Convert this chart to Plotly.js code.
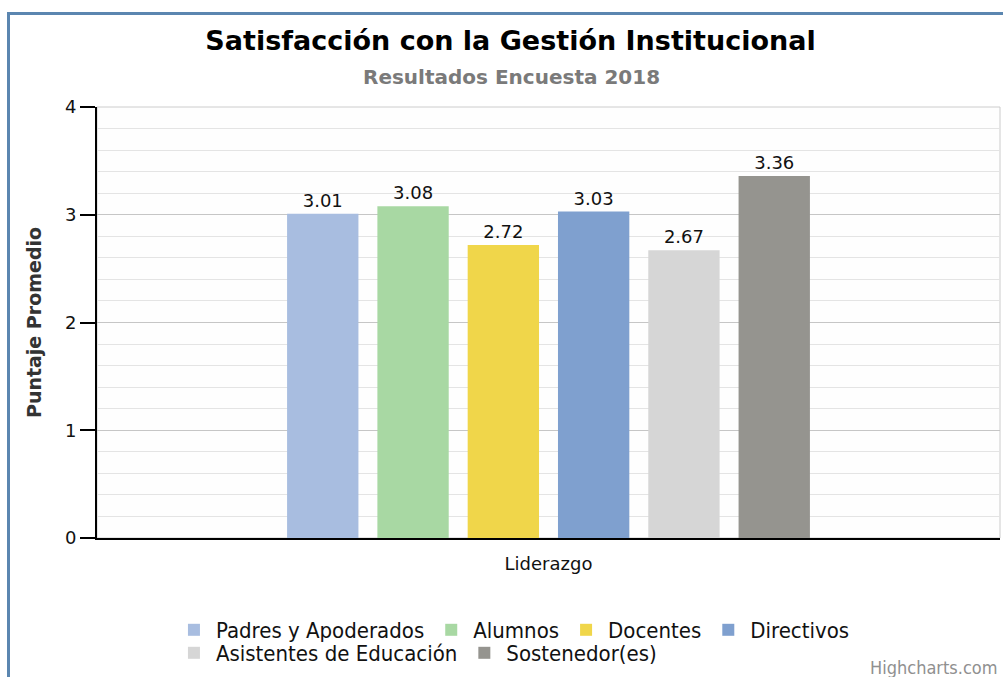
<!DOCTYPE html>
<html>
<head>
<meta charset="utf-8">
<script src="https://cdn.plot.ly/plotly-3.0.1.min.js"></script>
<style>
  body { margin: 0; background: linear-gradient(#fbfbfd, #f3f5f8); }
  #frame { position: absolute; left: 7px; top: 12px; width: 1010px; height: 700px;
           border: 3px solid #5b86b0; box-sizing: border-box; }
  #myDiv { position: absolute; left: 0; top: 0; width: 1003px; height: 677px; }
</style>
</head>
<body>
<div id="frame"></div>
<div id="myDiv"></div>
<script>
var categories = ["Liderazgo"];
var seriesNames = ["Padres y Apoderados", "Alumnos", "Docentes", "Directivos", "Asistentes de Educación", "Sostenedor(es)"];
var seriesValues = [3.01, 3.08, 2.72, 3.03, 2.67, 3.36];
var seriesColors = ["#a8bde0", "#a8d8a3", "#f0d64a", "#7fa0cf", "#d6d6d6", "#95948f"];
var yTicks = [0, 1, 2, 3, 4];

var data = [];
for (var i = 0; i < seriesNames.length; i++) {
  data.push({
    x: categories,
    y: [seriesValues[i]],
    type: "bar",
    name: seriesNames[i],
    marker: { color: seriesColors[i] },
    text: [seriesValues[i].toFixed(2)],
    textposition: "outside",
    textfont: { family: "DejaVu Sans", size: 18, color: "#111" },
    cliponaxis: false,
    legend: i < 4 ? "legend" : "legend2"
  });
}

var legendFont = { family: "DejaVu Sans Condensed, DejaVu Sans", size: 22, color: "#111" };

var layout = {
  width: 1003,
  height: 677,
  margin: { l: 97, r: 3, t: 107, b: 139 },
  paper_bgcolor: "rgba(0,0,0,0)",
  plot_bgcolor: "#fefefe",
  barmode: "group",
  bargap: 0.4,
  bargroupgap: 0.21,
  font: { family: "DejaVu Sans", color: "#111" },
  title: {
    text: "<b>Satisfacción con la Gestión Institucional</b>",
    font: { family: "DejaVu Sans", size: 27, color: "#000" },
    x: 0.509, xanchor: "center",
    yref: "container", y: 1 - 41 / 677, yanchor: "middle"
  },
  xaxis: {
    showline: true, linecolor: "#000", linewidth: 2,
    tickfont: { family: "DejaVu Sans", size: 18, color: "#111" },
    ticklabelstandoff: 8,
    fixedrange: true
  },
  yaxis: {
    range: [0, 4],
    tickvals: yTicks,
    ticks: "outside", ticklen: 15, tickcolor: "#000", tickwidth: 2,
    showline: true, linecolor: "#000", linewidth: 2,
    gridcolor: "#c6c6c6", zeroline: false,
    tickfont: { family: "DejaVu Sans", size: 18, color: "#111" },
    minor: { dtick: 0.2, showgrid: true, gridcolor: "#e4e4e4" },
    title: {
      text: "<b>Puntaje Promedio</b>",
      font: { family: "DejaVu Sans", size: 19, color: "#333" },
      standoff: 18
    }
  },
  showlegend: true,
  legend: {
    orientation: "h", x: 0.083, xanchor: "left",
    yref: "container", y: 1 - 609 / 677, yanchor: "top",
    font: legendFont, bgcolor: "rgba(0,0,0,0)", itemwidth: 34, traceorder: "normal"
  },
  legend2: {
    orientation: "h", x: 0.083, xanchor: "left",
    yref: "container", y: 1 - 632 / 677, yanchor: "top",
    font: legendFont, bgcolor: "rgba(0,0,0,0)", itemwidth: 34, traceorder: "normal"
  },
  shapes: [{
    type: "rect", xref: "paper", yref: "paper", x0: 0, x1: 1, y0: 0, y1: 1,
    line: { color: "#cccccc", width: 1 }, layer: "below"
  }],
  annotations: [{
    text: "<b>Resultados Encuesta 2018</b>",
    xref: "paper", x: (511 - 97) / 903, xanchor: "center",
    yref: "paper", y: 1 + (107 - 77) / 431, yanchor: "middle",
    showarrow: false,
    font: { family: "DejaVu Sans", size: 20, color: "#7a7a7a" }
  }, {
    text: "Highcharts.com",
    xref: "paper", x: 1, xanchor: "right",
    yref: "paper", y: (538 - 667) / 431, yanchor: "middle",
    showarrow: false,
    font: { family: "DejaVu Sans Condensed, DejaVu Sans", size: 18, color: "#909090" }
  }]
};

Plotly.newPlot("myDiv", data, layout, { displayModeBar: false, staticPlot: true });
</script>
</body>
</html>
